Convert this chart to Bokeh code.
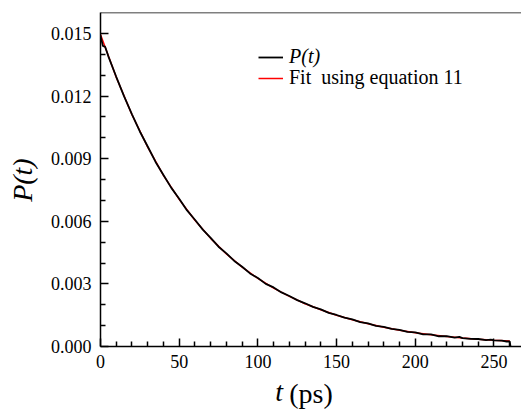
import math
from bokeh.plotting import figure
from bokeh.models import (Label, Legend, LegendItem, Span, FixedTicker, Range1d,
                          NumeralTickFormatter)
from bokeh.embed import file_html
from bokeh.resources import INLINE

# ---- data ----
t_data = [0, 1.5, 3, 5, 10, 15, 20, 25, 30, 35, 40, 45, 50, 55, 60, 65, 70, 75, 80, 85,
          90, 95, 100, 105, 110, 115, 120, 125, 130, 135, 140, 145, 150, 155, 160, 165,
          170, 175, 180, 185, 190, 195, 200, 205, 210, 215, 220, 225, 228, 230, 235, 240,
          245, 248, 250, 255, 258, 260, 260.5]
p_data = [0.01490, 0.01440, 0.01435, 0.01390, 0.01292, 0.01198, 0.01112, 0.01030, 0.00958,
          0.00884, 0.00822, 0.00760, 0.00708, 0.00652, 0.00607, 0.00560, 0.00520, 0.00478,
          0.00446, 0.00410, 0.00382, 0.00350, 0.00328, 0.00300, 0.00283, 0.00259, 0.00242,
          0.00222, 0.00207, 0.00190, 0.00178, 0.00161, 0.00151, 0.00138, 0.00130, 0.00117,
          0.00111, 0.00099, 0.00094, 0.00084, 0.00080, 0.00070, 0.00068, 0.00058, 0.00058,
          0.00049, 0.00050, 0.00042, 0.00046, 0.00040, 0.00037, 0.00036, 0.00031, 0.00033,
          0.00029, 0.00028, 0.00024, 0.00025, 0.0]

t_fit = [0, 10, 20, 30, 40, 50, 60, 70, 80, 90, 100, 110, 120, 130, 140, 150, 160, 170,
         180, 190, 200, 210, 220, 230, 240, 250, 260]
p_fit = [0.01495, 0.01290, 0.01110, 0.00955, 0.00820, 0.00705, 0.00605, 0.00518, 0.00443,
         0.00380, 0.00326, 0.00280, 0.00240, 0.00205, 0.00176, 0.00150, 0.00128, 0.00109,
         0.00092, 0.00078, 0.00066, 0.00056, 0.00048, 0.00041, 0.00035, 0.00030, 0.00026]

x_ticks = [0, 50, 100, 150, 200, 250]
x_minor = [10, 20, 30, 40, 60, 70, 80, 90, 110, 120, 130, 140, 160, 170, 180, 190,
           210, 220, 230, 240, 260]
y_ticks = [0.000, 0.003, 0.006, 0.009, 0.012, 0.015]
y_minor = [0.001, 0.002, 0.004, 0.005, 0.007, 0.008, 0.010, 0.011, 0.013, 0.014]

FONT = "Liberation Serif"

p = figure(width=521, height=411, output_backend="svg", toolbar_location=None,
           x_range=Range1d(0, 267.5), y_range=Range1d(0, 0.016),
           min_border_left=100, min_border_right=0, min_border_top=12, min_border_bottom=59)
p.outline_line_color = None
p.grid.visible = False
p.background_fill_color = "white"
p.border_fill_color = "white"

r_fit = p.line(t_fit, p_fit, line_color="#ff0000", line_width=1.5)
r_dat = p.line(t_data, p_data, line_color="black", line_width=1.8)

for ax in (p.xaxis[0], p.yaxis[0]):
    ax.axis_line_width = 1.5
    ax.axis_line_color = "black"
    ax.major_tick_in = 8
    ax.major_tick_out = 0
    ax.minor_tick_in = 5
    ax.minor_tick_out = 0
    ax.major_tick_line_width = 1.5
    ax.minor_tick_line_width = 1.5
    ax.major_tick_line_color = "black"
    ax.minor_tick_line_color = "black"
    ax.major_label_text_font = FONT
    ax.major_label_text_font_size = "18px"
    ax.major_label_text_color = "black"
    ax.axis_label_text_font = FONT
    ax.axis_label_text_font_size = "28px"
    ax.axis_label_text_color = "black"

p.xaxis[0].ticker = FixedTicker(ticks=x_ticks, minor_ticks=x_minor)
p.yaxis[0].ticker = FixedTicker(ticks=y_ticks, minor_ticks=y_minor)
p.yaxis[0].formatter = NumeralTickFormatter(format="0.000")
p.xaxis[0].major_label_standoff = 8
p.yaxis[0].major_label_standoff = 9

# x axis title: upright "(ps)" as the axis label, italic "t" as a label beside it
p.xaxis[0].axis_label = "(ps)"
p.xaxis[0].axis_label_text_font_style = "normal"
p.xaxis[0].axis_label_standoff = 7

def side_label(txt, x, y, angle=0.0):
    p.add_layout(Label(x=x, y=y, text=txt, text_font=FONT, text_font_size="28px",
                       text_font_style="italic", text_color="black", angle=angle,
                       text_align="left", text_baseline="alphabetic"), "left")

side_label("t", 111.0, -0.00215)
side_label("P(t)", -49.6, 0.00693, math.pi / 2)

# top frame line
p.add_layout(Span(location=0.016, dimension="width", line_color="black", line_width=1.5))

common = dict(padding=0, margin=0, border_line_color=None, background_fill_alpha=0,
              glyph_width=25, glyph_height=20, label_height=20, label_standoff=6,
              label_text_font=FONT, label_text_font_size="20px", label_text_color="black",
              spacing=0)
leg1 = Legend(items=[LegendItem(label="P(t)", renderers=[r_dat])], location=(158, 278),
              label_text_font_style="italic", **common)
leg2 = Legend(items=[LegendItem(label="Fit  using equation 11", renderers=[r_fit])],
              location=(158, 257), **common)
p.add_layout(leg1)
p.add_layout(leg2)

open("out.html", "w").write(file_html(p, INLINE))
